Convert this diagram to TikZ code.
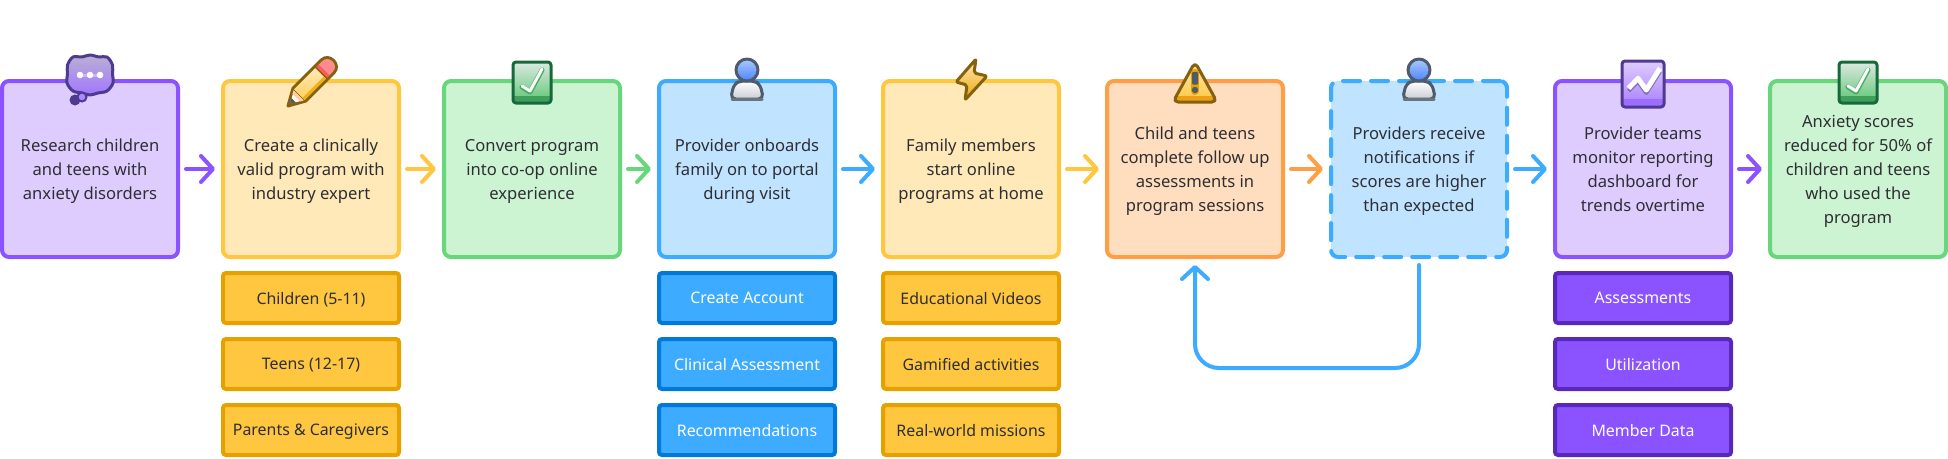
\documentclass[tikz,border=0pt]{standalone}
\usepackage{fontspec}
\setsansfont{Noto Sans}
\usetikzlibrary{arrows.meta,positioning}
\definecolor{flowPurple}{HTML}{8B53FF}
\definecolor{flowPurpleSoft}{HTML}{DFCCFF}
\definecolor{flowPurpleDeep}{HTML}{5A28B8}
\definecolor{flowYellow}{HTML}{FFC740}
\definecolor{flowYellowSoft}{HTML}{FFE9B8}
\definecolor{flowYellowDeep}{HTML}{E6A100}
\definecolor{flowGreen}{HTML}{68D77C}
\definecolor{flowGreenSoft}{HTML}{CCF4D3}
\definecolor{flowBlue}{HTML}{3DABFF}
\definecolor{flowBlueSoft}{HTML}{C0E3FF}
\definecolor{flowBlueDeep}{HTML}{0079D8}
\definecolor{flowOrange}{HTML}{FF9E44}
\definecolor{flowOrangeSoft}{HTML}{FFDDBF}
\definecolor{flowInk}{HTML}{2E2E33}
\definecolor{iconViolet}{HTML}{4F3A91}
\definecolor{iconBrown}{HTML}{85600F}
\definecolor{iconForest}{HTML}{17693C}
\definecolor{iconSlate}{HTML}{4F5B6B}
\definecolor{iconHead}{HTML}{A9C8FF}
\definecolor{iconHeadDeep}{HTML}{4A85FF}
\tikzset{
  flowStage/.style={
    draw=#1,
    fill=#1Soft,
    line width=4pt,
    rounded corners=7pt,
    align=center,
    text=flowInk,
    text depth=0pt,
    minimum width=176pt,
    minimum height=176pt,
    inner sep=0pt
  },
  flowChip/.style={
    draw=#1Deep,
    fill=#1,
    line width=4pt,
    rounded corners=3pt,
    align=center,
    font=\sffamily\fontsize{15.9pt}{24pt}\selectfont,
    text depth=0pt,
    minimum width=176pt,
    minimum height=50pt,
    inner sep=0pt
  },
  flowArrow/.style={
    draw=#1,
    line width=4pt,
    line cap=round,
    -{Straight Barb[round,length=12pt,width=26pt]},
    shorten <=6pt,
    shorten >=6pt
  },
  iconLine/.style={line width=3pt, line join=round},
  flowThought/.pic={
    \fill[iconViolet] (-15,-21) circle (5.5);
    \path[draw=iconViolet, iconLine, top color=iconViolet!40!white, bottom color=flowPurple!80!white]
      plot[smooth cycle, tension=.55] coordinates {(-22.5,14) (-17,22) (-8,22) (0,24) (9,22) (17,22) (22.5,14)
        (22.5,5) (23,-4) (17,-12) (8,-14) (0,-16) (-8,-14) (-17,-12) (-23,-4) (-22.5,5)};
    \path[draw=iconViolet, line width=2pt, fill=flowPurple!70!white] (-8,-18) circle (4.5);
    \fill[flowPurple!45!white] (-10,2) rectangle (10,5);
    \fill[white] (-10,4) circle (3.3) (0,4) circle (3.3) (10,4) circle (3.3);
  },
  flowPencil/.pic={
    \begin{scope}[shift={(-23,-27)}, rotate=45]
      \path[fill=iconBrown, draw=iconBrown, iconLine] (0,0) -- (16,9) -- (56,9) to[out=0,in=0,looseness=1.6] (56,-9) -- (16,-9) -- cycle;
      \fill[white!90!flowOrange] (3.5,0) -- (15,7) -- (15,-7) -- cycle;
      \fill[flowOrange!50!white] (12,-5.5) -- (15,-7) -- (15,7) -- (12,5.5) -- cycle;
      \fill[iconSlate] (3,0) -- (8,3) -- (8,-3) -- cycle;
      \shade[top color=flowYellowSoft, bottom color=flowYellow!85!white] (16,-7.5) rectangle (46,7.5);
      \fill[flowYellowDeep!60!flowYellow] (16,-7.5) rectangle (46,-4.5);
      \fill[red!45!white] (48,-7.5) -- (56,-7.5) to[out=0,in=0,looseness=1.6] (56,7.5) -- (48,7.5) -- cycle;
      \fill[red!65!white] (48,-7.5) rectangle (51,7.5);
    \end{scope}
  },
  flowCheck/.pic={
    \path[top color=iconForest!15!white, bottom color=flowGreen!85!iconForest, rounded corners=3pt] (-19,17) rectangle (19,-24);
    \fill[iconForest!50!flowGreen] (-18,-17) rectangle (18,-23);
    \draw[iconForest, iconLine, rounded corners=3pt] (-19,17) rectangle (19,-24);
    \draw[iconForest!40!flowGreen, line width=5pt, line cap=round, line join=round] (-10,-8) -- (-2,-13) -- (10,9);
    \draw[white, line width=3pt, line cap=round, line join=round] (-10,-7) -- (-2,-12) -- (10,10);
  },
  flowPerson/.pic={
    \path[top color=white, bottom color=iconSlate!30!white, draw=iconSlate, iconLine, rounded corners=5pt]
      (-7,-2) -- (7,-2) -- (13,-5) -- (16.5,-20) -- (-16.5,-20) -- (-13,-5) -- cycle;
    \draw[iconSlate!85!white, line width=3pt, line cap=round] (-15,-20) -- (15,-20);
    \path[top color=iconHead, bottom color=iconHeadDeep, draw=iconSlate, iconLine] (0,9) circle (11);
  },
  flowBolt/.pic={
    \path[top color=flowYellowSoft, bottom color=flowYellowDeep!85!flowYellow, draw=iconBrown, iconLine, rounded corners=2pt]
      (5,20) -- (-15,-3) -- (-4,-6) -- (-6,-21) -- (16,3) -- (3,6) -- cycle;
  },
  flowWarning/.pic={
    \path[top color=flowYellowSoft, bottom color=flowYellow, rounded corners=5pt] (0,17) -- (22,-23) -- (-22,-23) -- cycle;
    \fill[flowYellowDeep!70!flowOrange] (-19.5,-17) rectangle (19.5,-21.5);
    \draw[iconBrown, iconLine, rounded corners=5pt] (0,17) -- (22,-23) -- (-22,-23) -- cycle;
    \draw[flowYellowDeep, line width=8pt, line cap=round] (0,6) -- (0,-12);
    \fill[iconSlate, rounded corners=1pt] (-3,7) rectangle (3,-5.5);
    \fill[iconSlate] (0,-11) circle (3.2);
  },
  flowChart/.pic={
    \path[top color=flowPurpleSoft, bottom color=flowPurple!75!white, rounded corners=3pt] (-21,18) rectangle (21,-28);
    \fill[flowPurple!85!white] (-20,-20) rectangle (20,-27);
    \draw[iconViolet, iconLine, rounded corners=3pt] (-21,18) rectangle (21,-28);
    \draw[iconViolet!70!white, line width=4pt, line join=round] (-14.5,-12) -- (-5,-2.5) -- (3.3,-14) -- (17,7.5);
    \draw[white, line width=5pt, line join=round] (-14.5,-9.3) -- (-5,0.7) -- (3.3,-11) -- (17,10.7);
  }
}
\begin{document}
\begin{tikzpicture}[
    x=1pt,
    y=1pt,
    font=\sffamily\fontsize{16.6pt}{24pt}\selectfont,
    node distance=12pt
  ]
  \useasboundingbox (0,0) rectangle (1948,-458);

  \node[flowStage=flowPurple] (research) at (90,-169) {Research children\\and teens with\\anxiety disorders};
  \node[flowStage=flowYellow, right=41pt of research] (create) {Create a clinically\\valid program with\\industry expert};
  \node[flowStage=flowGreen, right=41pt of create] (convert) {Convert program\\into co-op online\\experience};
  \node[flowStage=flowBlue, right=35pt of convert] (onboard) {Provider onboards\\family on to portal\\during visit};
  \node[flowStage=flowYellow, right=44pt of onboard] (family) {Family members\\start online\\programs at home};
  \node[flowStage=flowOrange, right=44pt of family] (assess) {Child and teens\\complete follow up\\assessments in\\program sessions};
  \node[flowStage=flowBlue, dash pattern=on 17pt off 11pt, line cap=round, right=44pt of assess] (notify) {Providers receive\\notifications if\\scores are higher\\than expected};
  \node[flowStage=flowPurple, right=44pt of notify] (monitor) {Provider teams\\monitor reporting\\dashboard for\\trends overtime};
  \node[flowStage=flowGreen, right=35pt of monitor] (reduced) {Anxiety scores\\reduced for 50\% of\\children and teens\\who used the\\program};

  \node[flowChip=flowYellow, text=flowInk, below=of create] (children) {Children (5-11)};
  \node[flowChip=flowYellow, text=flowInk, below=of children] (teens) {Teens (12-17)};
  \node[flowChip=flowYellow, text=flowInk, below=of teens] (parents) {Parents \& Caregivers};
  \node[flowChip=flowBlue, text=white, below=of onboard] (account) {Create Account};
  \node[flowChip=flowBlue, text=white, below=of account] (clinical) {Clinical Assessment};
  \node[flowChip=flowBlue, text=white, below=of clinical] (recommend) {Recommendations};
  \node[flowChip=flowYellow, text=flowInk, below=of family] (videos) {Educational Videos};
  \node[flowChip=flowYellow, text=flowInk, below=of videos] (gamified) {Gamified activities};
  \node[flowChip=flowYellow, text=flowInk, below=of gamified] (missions) {Real-world missions};
  \node[flowChip=flowPurple, text=white, below=of monitor] (assessments) {Assessments};
  \node[flowChip=flowPurple, text=white, below=of assessments] (utilization) {Utilization};
  \node[flowChip=flowPurple, text=white, below=of utilization] (member) {Member Data};

  \pic at (research.north) {flowThought};
  \pic at (create.north) {flowPencil};
  \pic at (convert.north) {flowCheck};
  \pic at (onboard.north) {flowPerson};
  \pic at (family.north) {flowBolt};
  \pic at (assess.north) {flowWarning};
  \pic at (notify.north) {flowPerson};
  \pic at (monitor.north) {flowChart};
  \pic at (reduced.north) {flowCheck};

  \draw[flowArrow=flowPurple] (research) -- (create);
  \draw[flowArrow=flowYellow] (create) -- (convert);
  \draw[flowArrow=flowGreen] (convert) -- (onboard);
  \draw[flowArrow=flowBlue] (onboard) -- (family);
  \draw[flowArrow=flowYellow] (family) -- (assess);
  \draw[flowArrow=flowOrange] (assess) -- (notify);
  \draw[flowArrow=flowBlue] (notify) -- (monitor);
  \draw[flowArrow=flowPurple] (monitor) -- (reduced);
  \draw[flowArrow=flowBlue, rounded corners=24pt] (notify.south) -- ++(0,-109) -| (assess.south);
\end{tikzpicture}
\end{document}
